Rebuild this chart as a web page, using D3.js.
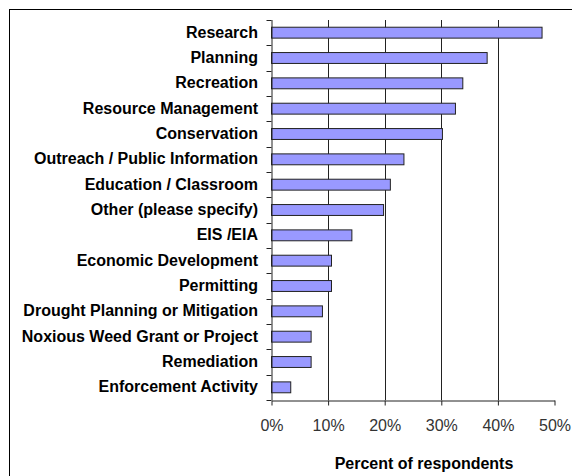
<!DOCTYPE html>
<html><head><meta charset="utf-8">
<script src="https://cdn.jsdelivr.net/npm/d3@7"></script>
<style>
html,body{margin:0;padding:0;background:#fff;}
svg{display:block;}
</style></head>
<body>
<svg id="chart" width="572" height="476"></svg>
<script>
const categories = ["Research","Planning","Recreation","Resource Management","Conservation","Outreach / Public Information","Education / Classroom","Other (please specify)","EIS /EIA","Economic Development","Permitting","Drought Planning or Mitigation","Noxious Weed Grant or Project","Remediation","Enforcement Activity"];
const values = [47.8,38.1,33.8,32.5,30.2,23.4,21.0,19.8,14.2,10.6,10.6,9.0,7.0,7.0,3.4];
const xTicks = [0,10,20,30,40,50];
const xTitle = "Percent of respondents";

(function(){
const svg = d3.select("#chart");
const pL = 271.5, pR = 554.5, pT = 20, pB = 400;
const FONT = "'Liberation Sans', Arial, sans-serif";

// outer border
svg.append("rect").attr("x",9.5).attr("y",9.5).attr("width",600).attr("height",500)
  .attr("fill","none").attr("stroke","#000").attr("stroke-width",1);

const x = d3.scaleLinear().domain([0,50]).range([pL,pR]);
const y = d3.scaleBand().domain(categories).range([pT,pB]).paddingInner(0.57).paddingOuter(0.285);
const yb = d3.scaleBand().domain(categories).range([pT,pB]);

// gridlines
svg.append("g").selectAll("line").data(xTicks.filter(t=>t>0 && t<50)).join("line")
  .attr("x1",d=>Math.round(x(d))+0.5).attr("x2",d=>Math.round(x(d))+0.5)
  .attr("y1",pT).attr("y2",pB).attr("stroke","#222").attr("stroke-width",1);

// bars
svg.append("g").selectAll("rect").data(categories).join("rect")
  .attr("x",pL).attr("y",d=>y(d))
  .attr("width",(d,i)=>x(values[i])-pL).attr("height",y.bandwidth())
  .attr("fill","#9999ff").attr("stroke","#222").attr("stroke-width",1);

// x axis
const xAxis = d3.axisBottom(x).tickValues(xTicks).tickFormat(d=>d+"%").tickSize(5).tickSizeOuter(0);
const gx = svg.append("g").attr("transform",`translate(0,${pB+0.5})`).call(xAxis);
gx.select(".domain").attr("stroke","#222");
gx.selectAll(".tick line").attr("stroke","#222");
gx.selectAll(".tick text").attr("font-family",FONT)
  .attr("font-size","16px").attr("fill","#333").attr("y",0).attr("dy",0)
  .attr("transform","translate(0,30.5)");

// y axis: line + boundary ticks
svg.append("line").attr("x1",pL+0.5).attr("x2",pL+0.5).attr("y1",pT).attr("y2",pB)
  .attr("stroke","#222");
const bounds = categories.map(c=>yb(c)).concat([pB]);
svg.append("g").selectAll("line").data(bounds).join("line")
  .attr("x1",pL-5).attr("x2",pL).attr("y1",d=>Math.round(d)+0.5).attr("y2",d=>Math.round(d)+0.5)
  .attr("stroke","#222");

// category labels
svg.append("g").selectAll("text").data(categories).join("text")
  .attr("x",258).attr("y",d=>yb(d)+yb.bandwidth()/2 + 5)
  .attr("text-anchor","end").attr("font-family",FONT)
  .attr("font-weight","bold").attr("font-size","16px").attr("fill","#000")
  .text(d=>d);

// x title
svg.append("text").attr("x",424).attr("y",469).attr("text-anchor","middle")
  .attr("font-family",FONT).attr("font-weight","bold")
  .attr("font-size","16px").text(xTitle);
})();
</script>
</body></html>
